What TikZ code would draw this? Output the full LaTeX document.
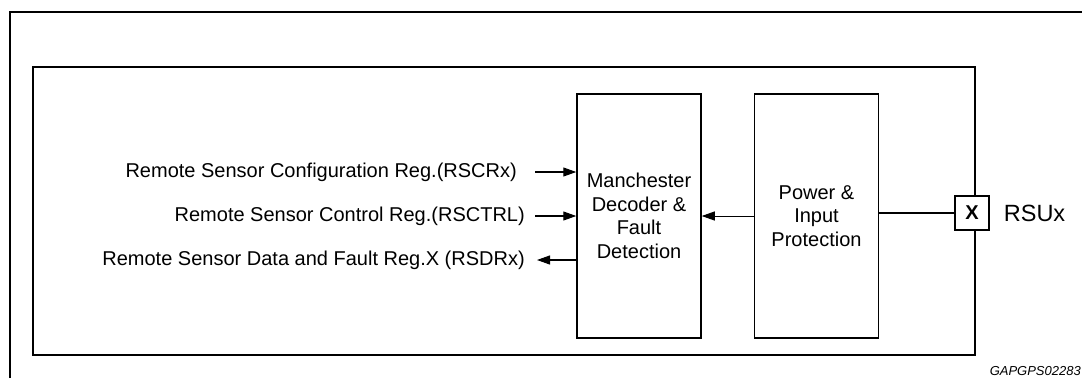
\documentclass[tikz,border=0pt]{standalone}
\usepackage{fontspec}
\setmainfont{Liberation Sans}
\usetikzlibrary{arrows.meta,positioning}

\begin{document}
\begin{tikzpicture}[
  x=1pt, y=-1pt,
  font=\fontsize{20}{23.5}\selectfont,
  frame/.style={draw, line width=2.6pt},
  block/.style={draw, line width=1.5pt, align=center, inner sep=0pt,
                minimum width=124pt, minimum height=244pt},
  reg/.style={anchor=east, inner sep=0pt},
  arrow/.style={-{Triangle[length=13pt,width=9pt]}, line width=1.1pt},
  wire/.style={line width=1.1pt},
  pin/.style={draw, fill=white, line width=1.3pt, minimum size=34pt, inner sep=0pt,
              font=\fontsize{20}{23}\selectfont\bfseries}
]
  \useasboundingbox (0,0) rectangle (1082,378);

  % frames
  \draw[frame] (10,378) -- (10,12) -- (1082,12);
  \draw[frame] (33,67) rectangle (975,355);

  % blocks
  \node[block] (mdec) at (639,216) {Manchester\\Decoder \&\\Fault\\Detection};
  \node[block, right=52pt of mdec] (power) {Power \&\\Input\\Protection};

  % register signals
  \node[reg] (cfg) at (517,172) {Remote Sensor Configuration Reg.(RSCRx)};
  \node[reg] (ctrl) at (525,216) {Remote Sensor Control Reg.(RSCTRL)};
  \node[reg] (data) at (525,260) {Remote Sensor Data and Fault Reg.X (RSDRx)};
  \coordinate (cfgin) at (535,172);
  \coordinate (ctrlin) at (535,216);
  \coordinate (dataout) at (537,260);

  \draw[arrow] (cfgin) -- (cfgin -| mdec.west);
  \draw[arrow] (ctrlin) -- (ctrlin -| mdec.west);
  \draw[arrow] (dataout -| mdec.west) -- (dataout);
  \draw[arrow, line width=0.9pt] (power.west) -- (mdec.east);

  % pin
  \node[pin] (rsu) at (972,213) {X};
  \node[right=14pt of rsu, inner sep=0pt, font=\fontsize{23.5}{26}\selectfont] (rsulbl) {RSUx};
  \draw[wire] (rsu.west) -- (rsu.west -| power.east);

  \node[anchor=east, inner sep=0pt, font=\fontsize{13}{15}\selectfont\itshape] (figid) at (1081,371) {GAPGPS02283};
\end{tikzpicture}
\end{document}
